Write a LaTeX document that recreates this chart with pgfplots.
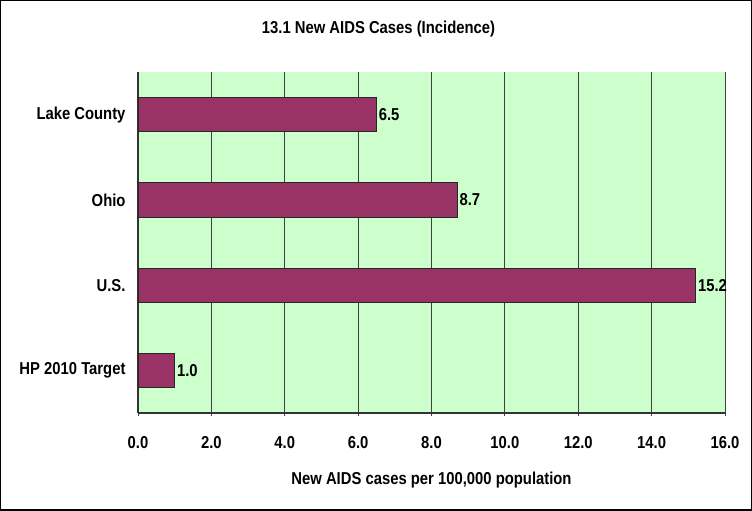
\documentclass[border=0pt]{standalone}
\usepackage{pgfplots}
\pgfplotsset{compat=1.18}
\usepackage{fontspec}
\setmainfont{Liberation Sans}[FakeStretch=0.86]
\definecolor{barcol}{HTML}{993366}
\definecolor{bgcol}{HTML}{CCFFCC}
\newcommand{\lblfont}{\fontsize{17.3}{20}\selectfont\bfseries}
\begin{document}
\begin{tikzpicture}[x=1bp,y=1bp]
\useasboundingbox (0,0) rectangle (752,511);
\draw[line width=1.5bp] (0.75,0.75) rectangle (751.25,510.25);
\node[font=\lblfont] at (378.5,482) {13.1 New AIDS Cases (Incidence)};
\begin{axis}[
  at={(138bp,98bp)}, anchor=south west,
  width=587bp, height=341bp, scale only axis,
  xmin=0, xmax=16, ymin=-0.5, ymax=3.5,
  xtick={0,2,...,16},
  xticklabel={\pgfmathprintnumber[fixed,fixed zerofill,precision=1]{\tick}},
  ytick={0,1,2,3},
  yticklabels={HP 2010 Target,U.S.,Ohio,Lake County},
  minor ytick={-0.5,0.5,1.5,2.5,3.5},
  ytick style={draw=none},
  minor tick length=5bp,
  major tick length=6bp,
  tick align=outside,
  axis lines=left,
  axis line style={-, black!80, line width=1.2bp},
  xmajorgrids,
  grid style={black!75, line width=0.8bp},
  every tick/.style={black!75, line width=0.8bp},
  axis background/.style={fill=bgcol},
  /pgf/number format/assume math mode=true,
  tick label style={font=\lblfont},
  xticklabel style={yshift=-17bp},
  yticklabel style={xshift=-3bp},
  xlabel={New AIDS cases per 100,000 population},
  xlabel style={font=\lblfont, yshift=-16bp},
  xbar, bar width=0.4,
  nodes near coords={\pgfmathprintnumber[fixed,fixed zerofill,precision=1]{\pgfplotspointmeta}},
  nodes near coords style={font=\lblfont, anchor=west, inner sep=2bp, black},
  point meta=x,
  clip=false,
]
\addplot[fill=barcol, draw=black!85, line width=0.8bp] coordinates {
  (1.0,0) (15.2,1) (8.7,2) (6.5,3)
};
\end{axis}
\end{tikzpicture}
\end{document}
